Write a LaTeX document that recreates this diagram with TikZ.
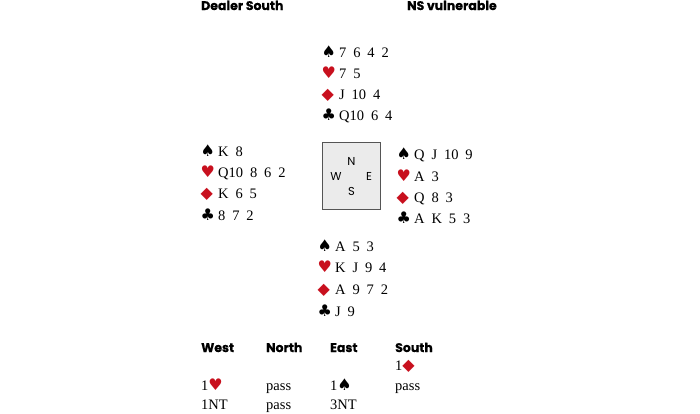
\documentclass[tikz,border=0pt]{standalone}
\usepackage{fontspec}
\setmainfont{Liberation Serif}[WordSpace=1.9]
\newfontfamily\headfont{Poppins}[BoldFeatures={FakeBold=0.6}]
\newfontfamily\suitfont{DejaVu Sans}
\definecolor{suitred}{RGB}{200,16,30}
\definecolor{boxfill}{RGB}{235,235,235}
\definecolor{boxline}{RGB}{85,85,85}
\newcommand\suitS{{\suitfont\fontsize{16}{17}\selectfont ♠}}
\newcommand\suitH{{\suitfont\fontsize{16}{17}\selectfont\color{suitred}♥}}
\newcommand\suitD{{\suitfont\fontsize{16}{17}\selectfont\color{suitred}◆}}
\newcommand\suitC{{\suitfont\fontsize{16}{17}\selectfont ♣}}
\newcommand\handline[2]{\makebox[17pt][l]{\hspace{-0.5pt}#1}#2}
\tikzset{
  card/.style={anchor=base west, inner sep=0pt, font=\fontsize{14.5}{16}\selectfont},
  head/.style={anchor=base west, inner sep=0pt, font=\headfont\bfseries\fontsize{12.5}{14}\selectfont},
  compass/.style={anchor=base, inner sep=0pt, font=\headfont\fontsize{11.5}{13}\selectfont},
  tablebox/.style={draw=boxline, fill=boxfill, line width=1pt, minimum width=58pt, minimum height=67pt, inner sep=0pt}
}
\begin{document}
\begin{tikzpicture}[x=1pt,y=-1pt]
\useasboundingbox (0,0) rectangle (700,413);
% headings
\node[head] (dealer) at (201,10) {Dealer South};
\node[head] (vul) at (407,10) {NS vulnerable};
% North
\node[card] (n1) at (322,57) {\handline{\suitS}{7 6 4 2}};
\node[card] (n2) at (322,78) {\handline{\suitH}{7 5}};
\node[card] (n3) at (322,99) {\handline{\suitD}{J 10 4}};
\node[card] (n4) at (322,120) {\handline{\suitC}{Q10 6 4}};
% West
\node[card] (w1) at (201,156) {\handline{\suitS}{K 8}};
\node[card] (w2) at (201,177.5) {\handline{\suitH}{Q10 8 6 2}};
\node[card] (w3) at (201,198.5) {\handline{\suitD}{K 6 5}};
\node[card] (w4) at (201,220) {\handline{\suitC}{8 7 2}};
% East
\node[card] (e1) at (397,159.5) {\handline{\suitS}{Q J 10 9}};
\node[card] (e2) at (397,181) {\handline{\suitH}{A 3}};
\node[card] (e3) at (397,202) {\handline{\suitD}{Q 8 3}};
\node[card] (e4) at (397,223.5) {\handline{\suitC}{A K 5 3}};
% South
\node[card] (s1) at (318,251) {\handline{\suitS}{A 5 3}};
\node[card] (s2) at (318,272.5) {\handline{\suitH}{K J 9 4}};
\node[card] (s3) at (318,294) {\handline{\suitD}{A 9 7 2}};
\node[card] (s4) at (318,316) {\handline{\suitC}{J 9}};
% table
\node[tablebox] (table) at (351,175.5) {};
\node[compass] (cn) at (351.5,165) {N};
\node[compass] (cw) at (336,180) {W};
\node[compass] (ce) at (369,180) {E};
\node[compass] (cs) at (351.5,195) {S};
% bidding
\node[head] (bw) at (201,352) {West};
\node[head] (bn) at (266,352) {North};
\node[head] (be) at (330,352) {East};
\node[head] (bs) at (395,352) {South};
\node[card] (r1s) at (395,370) {1\suitD};
\node[card] (r2w) at (201,390) {1\suitH};
\node[card] (r2n) at (266,390) {pass};
\node[card] (r2e) at (330,390) {1\suitS};
\node[card] (r2s) at (395,390) {pass};
\node[card] (r3w) at (201,409) {1NT};
\node[card] (r3n) at (266,409) {pass};
\node[card] (r3e) at (330,409) {3NT};
\end{tikzpicture}
\end{document}
